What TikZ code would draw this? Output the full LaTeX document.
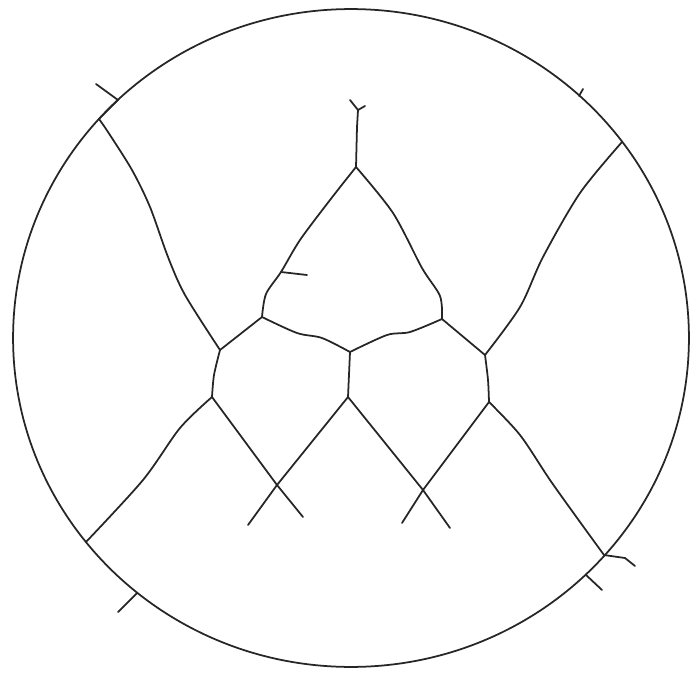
\documentclass[tikz,border=0pt]{standalone}
\usepackage{tikz}
\usetikzlibrary{positioning}

\begin{document}
\begin{tikzpicture}[
    x=0.02cm, y=-0.02cm,
    skel/.style={line width=1pt, line join=round, line cap=round, draw=black!85}
]
    \useasboundingbox (0,0) rectangle (692,672);

    % Junctions on the rim
    \coordinate (tl1) at (118,100);
    \coordinate (tl2) at (99,119);
    \coordinate (tick) at (579,96);
    \coordinate (tr) at (622,142);
    \coordinate (br1) at (604,555);
    \coordinate (br2) at (586,575);
    \coordinate (bl2) at (137,593);
    \coordinate (bl1) at (86,542);

    % Inner junctions
    \coordinate (apex) at (356,167);
    \coordinate (stem) at (358,110);
    \coordinate (spur) at (281,272);
    \coordinate (jtl) at (262,317);
    \coordinate (jtr) at (442,319);
    \coordinate (c1) at (350,352);
    \coordinate (c2) at (348,397);
    \coordinate (l1) at (220,350);
    \coordinate (l2) at (212,397);
    \coordinate (r1) at (485,355);
    \coordinate (r2) at (489,402);
    \coordinate (x1) at (277,485);
    \coordinate (x2) at (423,490);

    % Rim
    \draw[skel] (351,338) ellipse [x radius=6.76cm, y radius=6.58cm];

    % Spurs on the rim
    \draw[skel] (tl1) -- (96,84);
    \draw[skel] (tick) -- (583,89);
    \draw[skel] (br1) -- (625,558) -- (635,566);
    \draw[skel] (br2) -- (602,590);
    \draw[skel] (bl2) -- (118,612);

    % Triangle
    \draw[skel] (apex) -- (357,127) -- (stem);
    \draw[skel] (stem) -- (350,100);
    \draw[skel] (stem) -- (365,106);
    \draw[skel] plot[smooth] coordinates {(apex) (330,200) (300,240) (spur) (266,294) (jtl)};
    \draw[skel] (spur) -- (307,275);
    \draw[skel] plot[smooth] coordinates {(apex) (393,213) (422,268) (440,296) (jtr)};

    % Middle
    \draw[skel] plot[smooth] coordinates {(jtl) (297,333) (322,338) (c1)};
    \draw[skel] plot[smooth] coordinates {(c1) (387,335) (410,332) (jtr)};
    \draw[skel] (c1) -- (c2);
    \draw[skel] (jtl) -- (l1);
    \draw[skel] (jtr) -- (r1);
    \draw[skel] plot[smooth] coordinates {(l1) (214,375) (l2)};
    \draw[skel] plot[smooth] coordinates {(r1) (488,380) (r2)};
    \draw[skel] (l2) -- (x1);
    \draw[skel] (c2) -- (x1);
    \draw[skel] (c2) -- (x2);
    \draw[skel] (r2) -- (x2);
    \draw[skel] (x1) -- (248,525);
    \draw[skel] (x1) -- (303,517);
    \draw[skel] (x2) -- (402,523);
    \draw[skel] (x2) -- (450,528);

    % To the rim
    \draw[skel] plot[smooth] coordinates {(l1) (185,295) (168,257) (150,207) (132,170) (108,132) (tl2)};
    \draw[skel] (tl2) -- (tl1);
    \draw[skel] plot[smooth] coordinates {(l2) (180,428) (143,480) (bl1)};
    \draw[skel] plot[smooth] coordinates {(r1) (520,307) (543,257) (580,193) (tr)};
    \draw[skel] plot[smooth] coordinates {(r2) (520,435) (550,480) (580,522) (br1)};
\end{tikzpicture}
\end{document}
